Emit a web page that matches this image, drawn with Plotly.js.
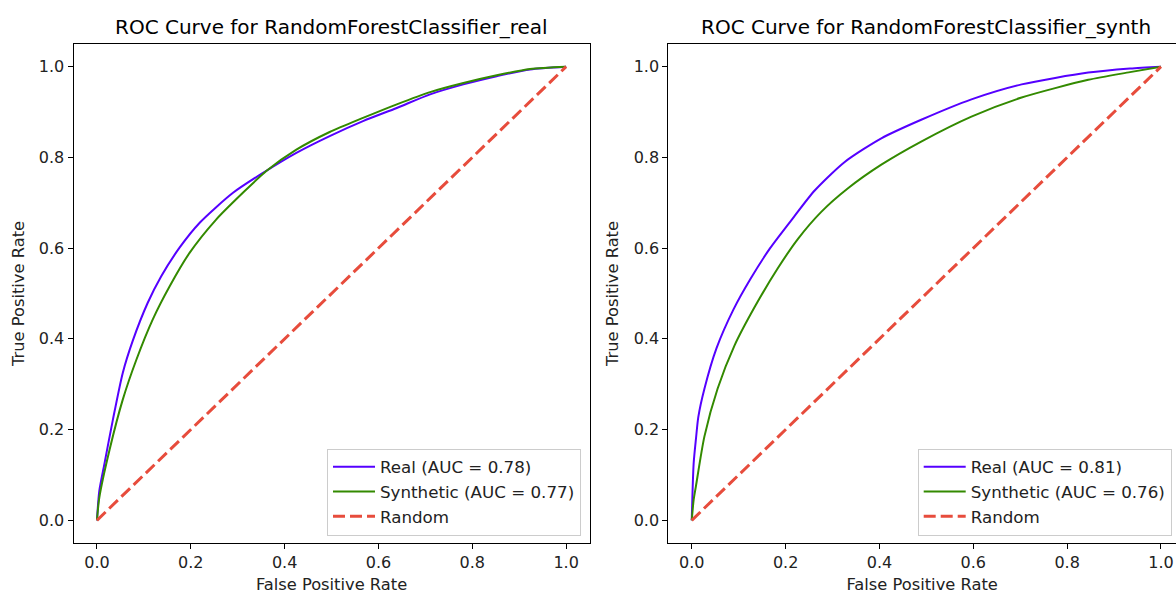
<!DOCTYPE html>
<html>
<head>
<meta charset="utf-8">
<script src="https://cdn.plot.ly/plotly-3.0.1.min.js"></script>
<style>html,body{margin:0;padding:0;background:#fff;}#chart{width:1176px;height:594px;}</style>
</head>
<body>
<div id="chart"></div>
<script>
// ---- Data ----
const leftTitle = "ROC Curve for RandomForestClassifier_real";
const rightTitle = "ROC Curve for RandomForestClassifier_synth";

const leftRealFpr = [0, 0.005, 0.016, 0.034, 0.055, 0.076, 0.108, 0.137, 0.176, 0.219, 0.29, 0.354, 0.425, 0.496, 0.567, 0.639, 0.71, 0.781, 0.852, 0.923, 1];
const leftRealTpr = [0, 0.065, 0.125, 0.222, 0.325, 0.395, 0.479, 0.538, 0.601, 0.656, 0.722, 0.766, 0.81, 0.847, 0.88, 0.909, 0.939, 0.961, 0.979, 0.994, 1];

const leftSynthFpr = [0, 0.005, 0.027, 0.055, 0.084, 0.119, 0.155, 0.197, 0.254, 0.311, 0.361, 0.425, 0.496, 0.567, 0.639, 0.71, 0.781, 0.852, 0.923, 1];
const leftSynthTpr = [0, 0.05, 0.156, 0.266, 0.354, 0.443, 0.516, 0.589, 0.663, 0.722, 0.77, 0.817, 0.856, 0.887, 0.917, 0.944, 0.964, 0.981, 0.995, 1];

const rightRealFpr = [0, 0.004, 0.009, 0.014, 0.027, 0.053, 0.089, 0.125, 0.167, 0.217, 0.262, 0.326, 0.404, 0.489, 0.596, 0.703, 0.845, 0.934, 1];
const rightRealTpr = [0, 0.125, 0.18, 0.228, 0.29, 0.38, 0.465, 0.532, 0.6, 0.668, 0.727, 0.79, 0.842, 0.883, 0.928, 0.961, 0.987, 0.996, 1];

const rightSynthFpr = [0, 0.004, 0.009, 0.027, 0.055, 0.091, 0.134, 0.183, 0.226, 0.276, 0.333, 0.404, 0.489, 0.596, 0.703, 0.845, 0.934, 1];
const rightSynthTpr = [0, 0.045, 0.076, 0.185, 0.29, 0.385, 0.47, 0.555, 0.62, 0.68, 0.732, 0.784, 0.835, 0.89, 0.932, 0.971, 0.988, 1];

const randomFpr = [0, 1];
const randomTpr = [0, 1];

const leftLabels = ["Real (AUC = 0.78)", "Synthetic (AUC = 0.77)", "Random"];
const rightLabels = ["Real (AUC = 0.81)", "Synthetic (AUC = 0.76)", "Random"];

const tickVals = [0, 0.2, 0.4, 0.6, 0.8, 1.0];
const tickText = ["0.0", "0.2", "0.4", "0.6", "0.8", "1.0"];

// ---- Styles ----
const FONT = "DejaVu Sans, sans-serif";
const cReal = "#5500ff";
const cSynth = "#338a00";
const cRand = "#e74c3c";

function line(x, y, name, color, xa, ya, lg, dash, w, smooth) {
  const ln = {color: color, width: w, dash: dash || "solid"};
  if (smooth) { ln.shape = "spline"; ln.smoothing = 0.7; }
  return {x: x, y: y, name: name, type: "scatter", mode: "lines",
    line: ln, xaxis: xa, yaxis: ya, legend: lg, hoverinfo: "skip"};
}

const data = [
  line(leftRealFpr, leftRealTpr, leftLabels[0], cReal, "x", "y", "legend", null, 2, true),
  line(leftSynthFpr, leftSynthTpr, leftLabels[1], cSynth, "x", "y", "legend", null, 2, true),
  line(randomFpr, randomTpr, leftLabels[2], cRand, "x", "y", "legend", "12px,5px", 3, false),
  line(rightRealFpr, rightRealTpr, rightLabels[0], cReal, "x2", "y2", "legend2", null, 2, true),
  line(rightSynthFpr, rightSynthTpr, rightLabels[1], cSynth, "x2", "y2", "legend2", null, 2, true),
  line(randomFpr, randomTpr, rightLabels[2], cRand, "x2", "y2", "legend2", "12px,5px", 3, false)
];

const axBase = {
  showgrid: false, zeroline: false, showline: true, linecolor: "#000", linewidth: 1,
  ticks: "outside", ticklen: 5, tickwidth: 1, tickcolor: "#000",
  tickvals: tickVals, ticktext: tickText,
  tickfont: {family: FONT, size: 16, color: "#222"},
  range: [-0.05, 1.05], fixedrange: true
};

function ax(extra) { return Object.assign({}, axBase, extra); }

const legBase = {
  bgcolor: "rgba(255,255,255,0.8)", bordercolor: "#cccccc", borderwidth: 1,
  font: {family: FONT, size: 16.7, color: "#222"},
  xanchor: "right", yanchor: "bottom", tracegroupgap: 0, itemwidth: 42
};

const titleFont = {family: FONT, size: 16.3, color: "#222"};

const layout = {
  width: 1176, height: 594,
  margin: {l: 0, r: 0, t: 44.4, b: 51.4},
  paper_bgcolor: "#fff", plot_bgcolor: "#fff",
  showlegend: true,
  xaxis: ax({domain: [73.5/1176, 589.6/1176], anchor: "y", mirror: true,
    title: {text: "False Positive Rate", font: titleFont}}),
  yaxis: ax({domain: [0, 1], anchor: "x", mirror: true,
    title: {text: "True Positive Rate", font: titleFont, standoff: 10}}),
  xaxis2: ax({domain: [668.3/1176, 1], anchor: "y2", mirror: true, range: [-0.05, 1.032],
    title: {text: "False Positive Rate", font: titleFont}}),
  yaxis2: ax({domain: [0, 1], anchor: "x2", mirror: false,
    title: {text: "True Positive Rate", font: titleFont, standoff: 10}}),
  legend: Object.assign({}, legBase, {x: 581/1176, y: 0.015}),
  legend2: Object.assign({}, legBase, {x: 1171.7/1176, y: 0.015}),
  annotations: [
    {text: leftTitle, xref: "paper", yref: "paper", x: (73.5+589.6)/2/1176, y: 1.035,
      xanchor: "center", yanchor: "middle", showarrow: false,
      font: {family: FONT, size: 20, color: "#000"}},
    {text: rightTitle, xref: "paper", yref: "paper", x: (668.3+1183.4)/2/1176, y: 1.035,
      xanchor: "center", yanchor: "middle", showarrow: false,
      font: {family: FONT, size: 20, color: "#000"}}
  ]
};

Plotly.newPlot("chart", data, layout, {staticPlot: true, displayModeBar: false});
</script>
</body>
</html>
